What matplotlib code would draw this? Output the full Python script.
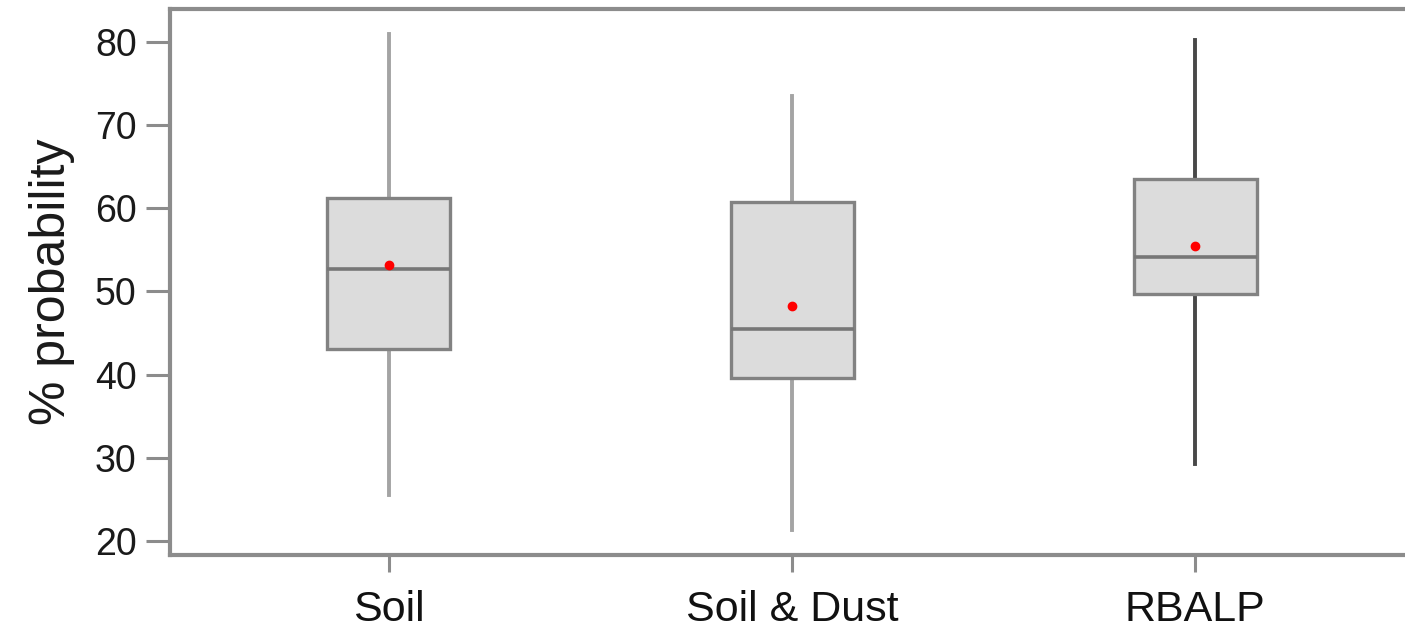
import matplotlib
matplotlib.use("Agg")
import matplotlib.pyplot as plt

plt.rcParams['font.family'] = ['Liberation Sans', 'DejaVu Sans']

groups = ["Soil", "Soil & Dust", "RBALP"]
whisker_low = [25.5, 21.3, 29.3]
q1 = [43.1, 39.6, 49.7]
median = [52.7, 45.5, 54.1]
q3 = [61.2, 60.8, 63.5]
whisker_high = [81.0, 73.5, 80.2]
mean = [53.2, 48.2, 55.4]
whisker_colors = ["#a4a4a4", "#a4a4a4", "#484848"]

positions = [1, 2, 3]
stats = []
for i, name in enumerate(groups):
    stats.append({
        "label": name,
        "whislo": whisker_low[i],
        "q1": q1[i],
        "med": median[i],
        "q3": q3[i],
        "whishi": whisker_high[i],
        "mean": mean[i],
        "fliers": [],
    })

fig = plt.figure(figsize=(14.05, 6.3), dpi=100)
ax = fig.add_axes([0.121, 0.119, 0.8855, 0.866])

bp = ax.bxp(stats, positions=positions, widths=0.305, patch_artist=True,
            showmeans=True, showcaps=False, showfliers=False,
            boxprops=dict(facecolor="#dcdcdc", edgecolor="#828282", linewidth=2.4),
            medianprops=dict(color="#777777", linewidth=2.6),
            meanprops=dict(marker="o", markerfacecolor="red", markeredgecolor="red",
                           markersize=6),
            whiskerprops=dict(linewidth=2.8))

# whisker shade differs per group
for i, c in enumerate(whisker_colors):
    for w in bp["whiskers"][2 * i:2 * i + 2]:
        w.set_color(c)
        w.set_zorder(1)

ax.set_xlim(1 - 0.543, 3 + 0.543)
ax.set_ylim(18.3, 83.9)
ax.set_yticks([20, 30, 40, 50, 60, 70, 80])
ax.set_xticks(positions)
ax.set_xticklabels(groups)

for s in ax.spines.values():
    s.set_color("#8c8c8c")
    s.set_linewidth(3.0)

ax.tick_params(axis="y", length=17, width=2.2, color="#8c8c8c", pad=7,
               labelsize=27, labelcolor="#1a1a1a")
ax.tick_params(axis="x", length=12, width=2.2, color="#8c8c8c", pad=13,
               labelsize=31, labelcolor="#111111")

ax.set_ylabel("% probability", fontsize=36, color="#1a1a1a", labelpad=14)

fig.savefig("out.png", dpi=100)
